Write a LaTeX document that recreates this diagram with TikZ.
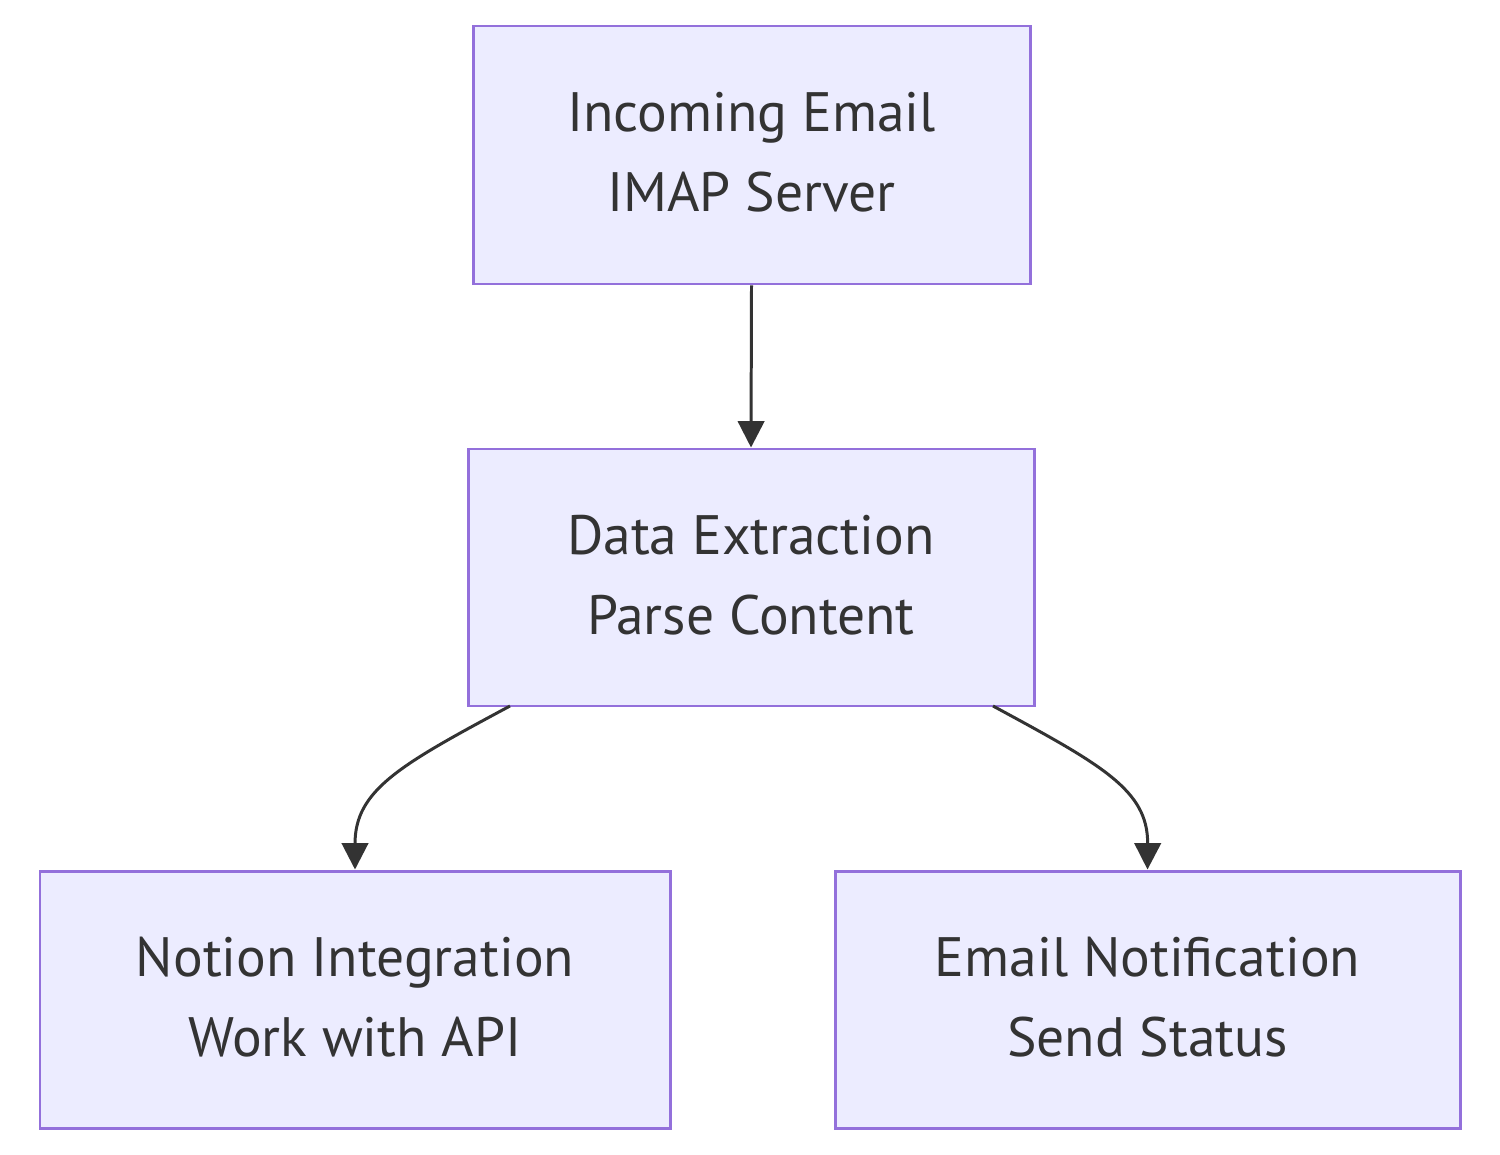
\documentclass[tikz,border=0pt]{standalone}
\usepackage{fontspec}
\setmainfont{PT Sans}
\usetikzlibrary{arrows.meta}
\definecolor{boxfill}{HTML}{ECECFF}
\definecolor{boxline}{HTML}{9370DB}
\definecolor{ink}{HTML}{333333}
\tikzset{
  box/.style={draw=boxline, fill=boxfill, line width=1.7pt, rectangle, inner sep=0pt},
  lbl/.style={text=ink, font=\fontsize{31.6pt}{45.5pt}\selectfont, align=center},
  conn/.style={draw=ink, line width=1.7pt, -{Triangle[length=15pt,width=15pt]}}
}
\begin{document}
\begin{tikzpicture}[x=0.02cm,y=-0.02cm]
\useasboundingbox (0,0) rectangle (1500,1155);
\node[box, minimum width=557*0.02cm, minimum height=258*0.02cm] (A) at (751.5,155) {};
\node[box, minimum width=566*0.02cm, minimum height=257*0.02cm] (B) at (751,577.5) {};
\node[box, minimum width=630*0.02cm, minimum height=257*0.02cm] (C) at (355,999.5) {};
\node[box, minimum width=625*0.02cm, minimum height=257*0.02cm] (D) at (1147.5,999.5) {};
\node[lbl] (tA) at ([yshift=0.05cm]A.center) {Incoming Email\\IMAP Server};
\node[lbl] (tB) at ([yshift=0.05cm]B.center) {Data Extraction\\Parse Content};
\node[lbl] (tC) at ([yshift=0.05cm]C.center) {Notion Integration\\Work with API};
\node[lbl] (tD) at ([yshift=0.05cm]D.center) {Email Notification\\Send Status};
\draw[conn] (A.south) -- (B.north);
\coordinate (b1) at (510,706);
\coordinate (b2) at (993,706);
\draw[conn] (b1) .. controls (400,765) and (355,790) .. (C.north);
\draw[conn] (b2) .. controls (1102,765) and (1148,790) .. (D.north);
\end{tikzpicture}
\end{document}
